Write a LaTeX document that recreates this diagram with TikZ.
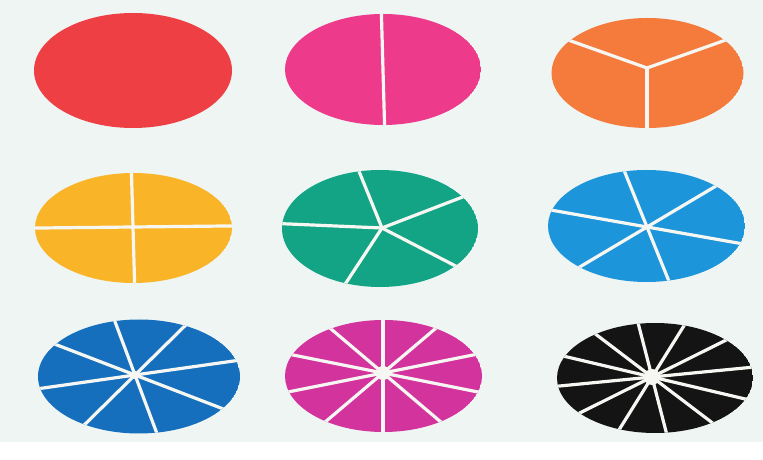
\documentclass[tikz,border=0pt]{standalone}
\usepackage{tikz}

\definecolor{bgcol}{HTML}{EEF5F3}
\definecolor{cutcol}{HTML}{F6F7F2}
\definecolor{redpie}{HTML}{EE3F44}
\definecolor{pinkpie}{HTML}{EE3A8A}
\definecolor{orangepie}{HTML}{F47B3B}
\definecolor{yellowpie}{HTML}{FAB428}
\definecolor{greenpie}{HTML}{13A485}
\definecolor{skypie}{HTML}{1C95DA}
\definecolor{bluepie}{HTML}{166FBD}
\definecolor{magentapie}{HTML}{D2339C}
\definecolor{blackpie}{HTML}{141414}

\tikzset{cut/.style={draw=cutcol,line width=3.2pt}}

% #1 centre, #2 radii, #3 colour, #4 pieces, #5 start angle, #6 meeting point
\newcommand{\fracdisc}[6]{%
 \begin{scope}
 \clip #1 ellipse (#2);
 \fill[#3] #1 ellipse (#2);
 \foreach \k in {1,...,#4}
  \draw[cut] #6 -- ++({#5+360/#4*\k}:130 and 80);
 \end{scope}}

\begin{document}
\begin{tikzpicture}[x=1pt,y=1pt]
\fill[white] (0,0) rectangle (763,460);
\fill[bgcol] (0,18) rectangle (763,460);

\fill[redpie] (133,389.5) ellipse (99 and 57.5);
\fracdisc{(383,390.5)}{98 and 55.5}{pinkpie}{2}{91}{(383,390)}
\fracdisc{(647.5,387)}{96 and 55}{orangepie}{3}{-90}{(647,392)}

\fracdisc{(133.5,232)}{98.5 and 55}{yellowpie}{4}{1}{(133,233)}
\fracdisc{(380,231.5)}{98 and 58.5}{greenpie}{5}{-40}{(382,232)}
\fracdisc{(646.5,234)}{98.5 and 56}{skypie}{6}{44}{(647,233)}

\fracdisc{(139,83.5)}{101 and 57}{bluepie}{8}{58}{(135,85)}
\fill[cutcol] (135,85) circle (4);
\fracdisc{(383.5,84)}{98.5 and 56}{magentapie}{10}{54}{(383,87)}
\fill[cutcol] (383,87) circle (7);
\fracdisc{(655,82)}{98 and 55}{blackpie}{12}{69}{(652,83)}
\fill[cutcol] (652,83) circle (8);
\end{tikzpicture}
\end{document}
